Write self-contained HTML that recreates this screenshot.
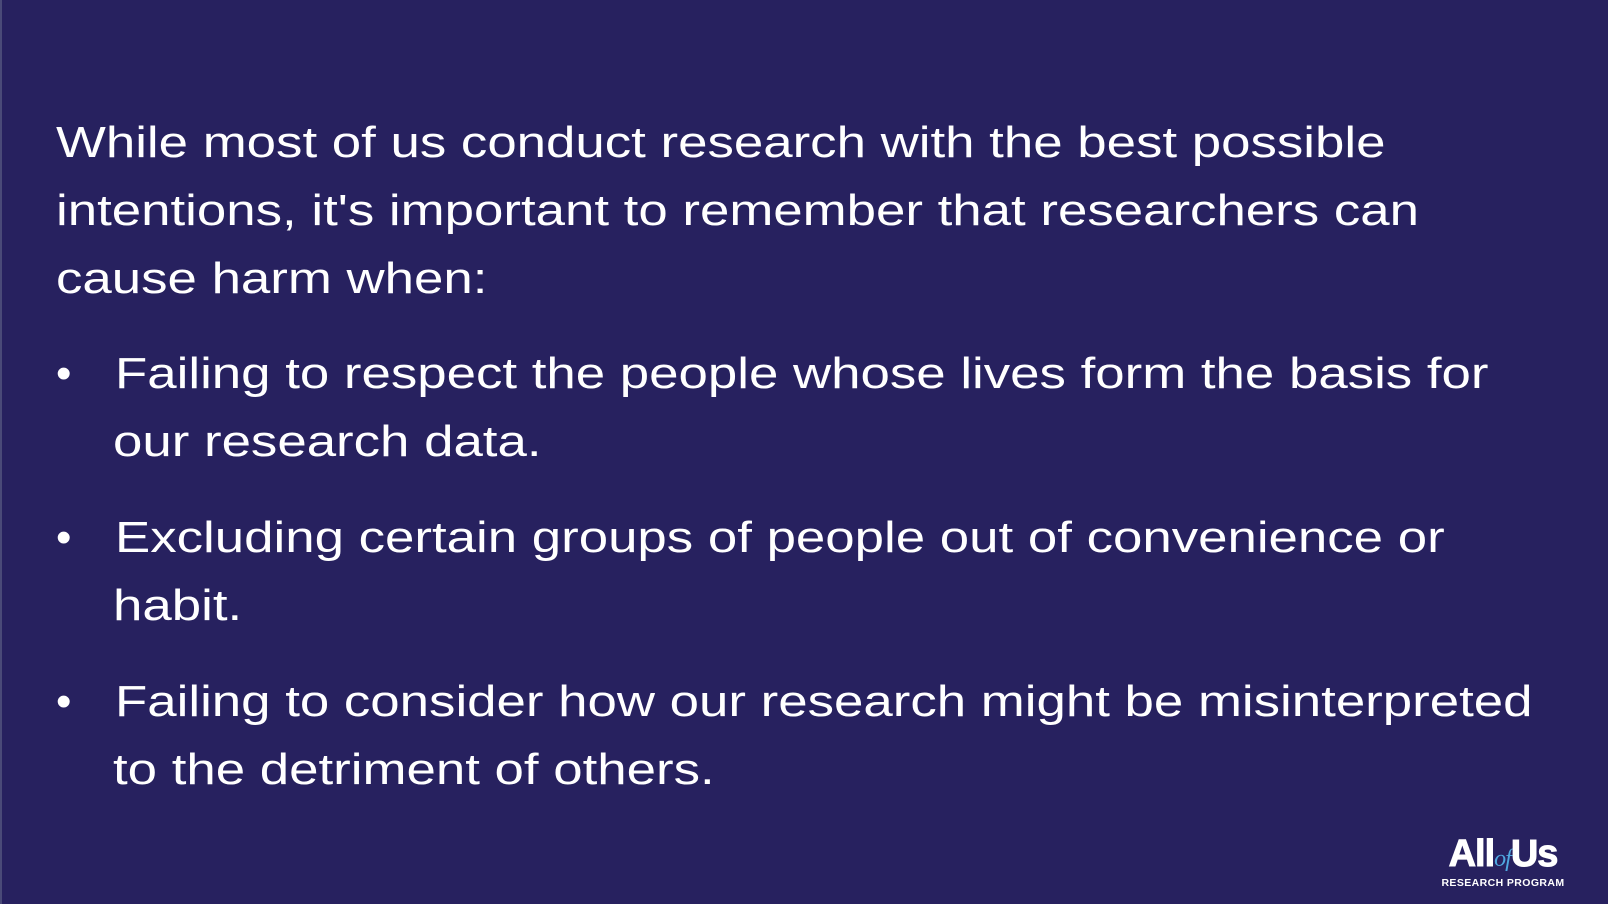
<!DOCTYPE html>
<html><head><meta charset="utf-8"><style>
body{margin:0;width:1608px;height:904px;background:#27215f;overflow:hidden;position:relative;font-family:"Liberation Sans",sans-serif;color:#fff}
.l{position:absolute;font-size:44px;line-height:44px;white-space:nowrap;transform:scaleX(1.2);transform-origin:0 0}
.b{position:absolute;font-size:44px;line-height:44px}
</style></head><body>
<div style="position:absolute;left:0;top:0;width:2px;height:904px;background:#4a4a78"></div>
<div>
<div class="l" style="left:56px;top:121px">While most of us conduct research with the best possible</div>
<div class="l" style="left:56px;top:189px">intentions, it's important to remember that researchers can</div>
<div class="l" style="left:56px;top:257px">cause harm when:</div>
</div>
<div>
<div class="b" style="left:56px;top:352px">•</div>
<div class="l" style="left:115px;top:352px">Failing to respect the people whose lives form the basis for</div>
<div class="l" style="left:113px;top:420px">our research data.</div>
<div class="b" style="left:56px;top:516px">•</div>
<div class="l" style="left:115px;top:516px">Excluding certain groups of people out of convenience or</div>
<div class="l" style="left:113px;top:584px">habit.</div>
<div class="b" style="left:56px;top:680px">•</div>
<div class="l" style="left:115px;top:680px">Failing to consider how our research might be misinterpreted</div>
<div class="l" style="left:113px;top:748px">to the detriment of others.</div>
</div>
<div style="position:absolute;left:1430px;top:836px;width:146px;text-align:center">
<div style="font-weight:900;font-size:38px;line-height:36px;letter-spacing:-1px;-webkit-text-stroke:1px #fff">All<span style="font-family:'Liberation Serif',serif;font-style:italic;font-weight:normal;font-size:24px;color:#4fa8e0;-webkit-text-stroke:0">of</span>Us</div>
<div style="font-weight:bold;font-size:10.5px;line-height:12px;letter-spacing:0.4px">RESEARCH PROGRAM</div>
</div>
</body></html>
